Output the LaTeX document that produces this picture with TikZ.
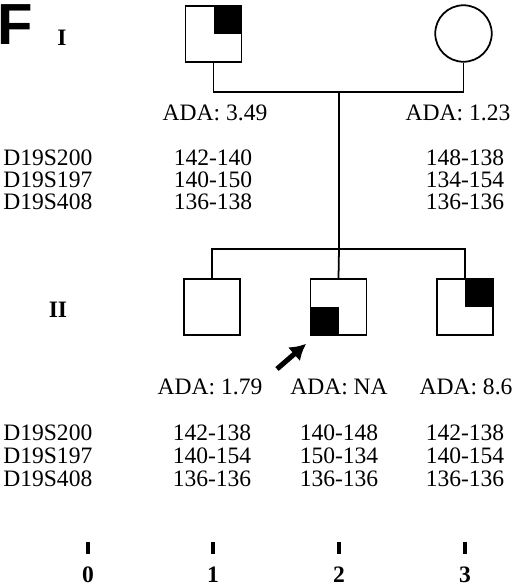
\documentclass[tikz,border=0pt]{standalone}
\usepackage{fontspec}
\setmainfont{Liberation Serif}
\newfontfamily\panelfont{Liberation Sans}
\usetikzlibrary{arrows.meta, positioning}
\tikzstyle{male} = [rectangle, draw=black, line width=1pt, minimum size=1.12cm, inner sep=0pt]
\tikzstyle{female} = [circle, draw=black, line width=1pt, minimum size=1.13cm, inner sep=0pt]
\tikzstyle{line} = [line width=1pt]
\tikzstyle{info} = [inner sep=0pt, font=\fontsize{13.4}{14}\selectfont]
\tikzstyle{marker} = [info, anchor=west]
\tikzstyle{gen} = [inner sep=0pt, font=\fontsize{13.4}{14}\selectfont\bfseries]
\tikzstyle{tick} = [rectangle, fill=black, minimum width=2pt, minimum height=6.5pt, inner sep=0pt]
\tikzstyle{proband} = [line width=2.9pt, -{Latex[length=9pt, width=10.5pt]}]

\begin{document}
\begin{tikzpicture}[x=0.02cm, y=-0.02cm]
\useasboundingbox (0,0) rectangle (520,586);

\node (panel) [anchor=base west, inner sep=0pt, font=\fontsize{33}{33}\selectfont\panelfont\bfseries] at (-3,44) {F};
\node (genI) [gen] at (62,38) {I};
\node (genII) [gen] at (58,310) {II};

% generation I
\node (father) [male] at (213.5,34) {};
\node (mother) [female] at (463.5,33.5) {};
\fill (father.north) rectangle (father.east);

\coordinate (mate) at (339,92);
\coordinate (sib) at (339,249);
\draw [line] (father.south) |- (mate) -| (mother.south);
\draw [line] (mate) -- (sib);

% generation II
\node (child1) [male] at (212,307) {};
\node (child2) [male] at (338.5,307) {};
\node (child3) [male] at (465,307) {};
\fill (child2.west) rectangle (child2.south);
\fill (child3.north) rectangle (child3.east);

\draw [line] (child1.north) |- (sib) -| (child3.north);
\draw [line] (sib) -- (child2.north);

\coordinate (pointer) at (277,369);
\draw [proband] (pointer) -- ([xshift=-2pt, yshift=-4.5pt]child2.south west);

% ADA values
\node (adaF) [info] at (215,113) {ADA: 3.49};
\node (adaM) [info] at (458,113) {ADA: 1.23};
\node (ada1) [info] at (210,387) {ADA: 1.79};
\node (ada2) [info] at (339,387) {ADA: NA};
\node (ada3) [info] at (466,387) {ADA: 8.6};

% haplotypes, generation I
\node (locA) [marker] at (3,158) {D19S200};
\node (locB) [marker] at (3,180) {D19S197};
\node (locC) [marker] at (3,202) {D19S408};
\node (fA) [info] at (213,158) {142-140};
\node (fB) [info] at (213,180) {140-150};
\node (fC) [info] at (213,202) {136-138};
\node (mA) [info] at (465,158) {148-138};
\node (mB) [info] at (465,180) {134-154};
\node (mC) [info] at (465,202) {136-136};

% haplotypes, generation II
\node (locD) [marker] at (3,433) {D19S200};
\node (locE) [marker] at (3,456) {D19S197};
\node (locF) [marker] at (3,479) {D19S408};
\node (aA) [info] at (212,433) {142-138};
\node (aB) [info] at (212,456) {140-154};
\node (aC) [info] at (212,479) {136-136};
\node (bA) [info] at (339,433) {140-148};
\node (bB) [info] at (339,456) {150-134};
\node (bC) [info] at (339,479) {136-136};
\node (cA) [info] at (465,433) {142-138};
\node (cB) [info] at (465,456) {140-154};
\node (cC) [info] at (465,479) {136-136};

% scale
\node (t0) [tick] at (88,548) {};
\node (t1) [tick] at (213,548) {};
\node (t2) [tick] at (339,548) {};
\node (t3) [tick] at (465,548) {};
\node (n0) [gen] at (88,575) {0};
\node (n1) [gen] at (213,575) {1};
\node (n2) [gen] at (339,575) {2};
\node (n3) [gen] at (465,575) {3};

\end{tikzpicture}
\end{document}
